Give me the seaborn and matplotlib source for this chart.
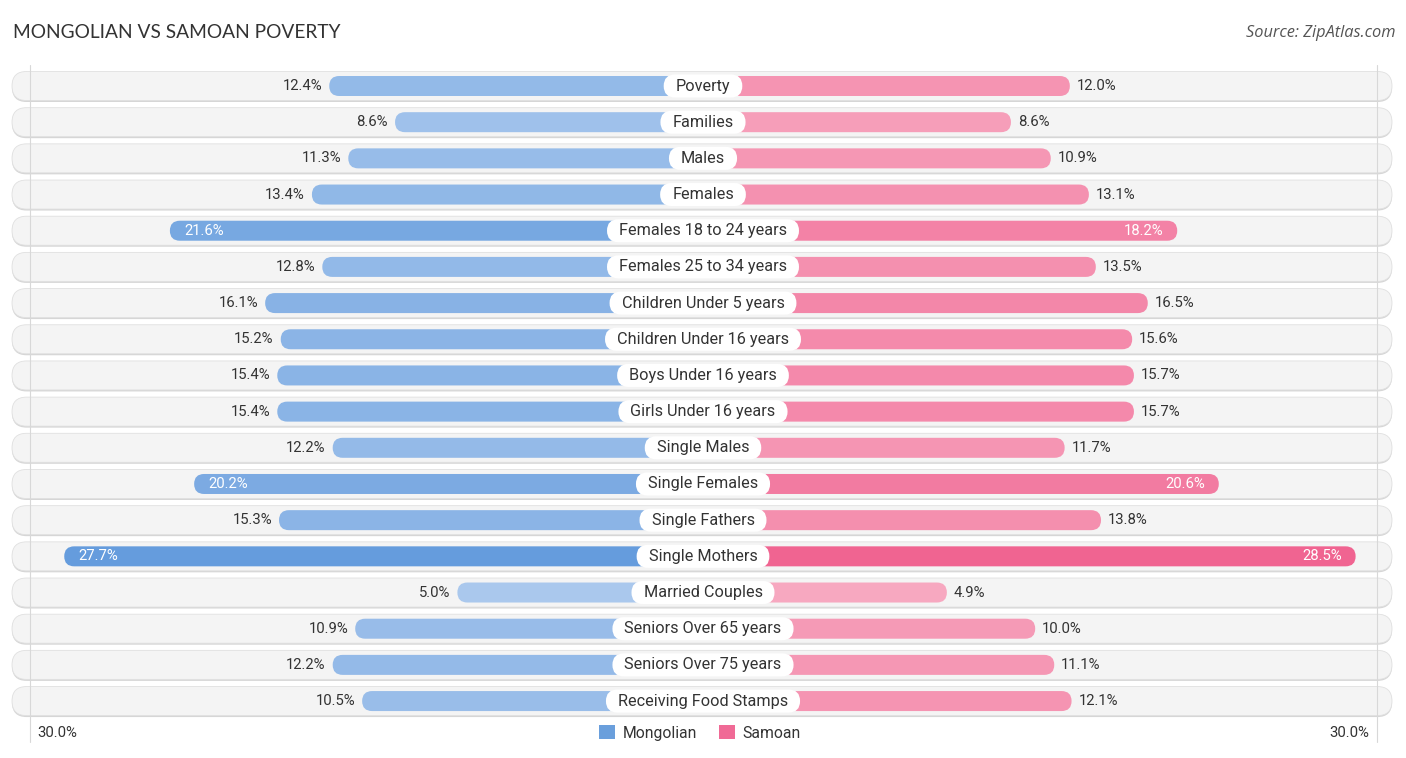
import matplotlib
matplotlib.use("Agg")
import matplotlib.pyplot as plt
from matplotlib.patches import FancyBboxPatch, Patch
import seaborn as sns
import numpy as np

categories = ["Poverty", "Families", "Males", "Females", "Females 18 to 24 years",
              "Females 25 to 34 years", "Children Under 5 years", "Children Under 16 years",
              "Boys Under 16 years", "Girls Under 16 years", "Single Males", "Single Females",
              "Single Fathers", "Single Mothers", "Married Couples", "Seniors Over 65 years",
              "Seniors Over 75 years", "Receiving Food Stamps"]
mongolian = [12.4, 8.6, 11.3, 13.4, 21.6, 12.8, 16.1, 15.2, 15.4, 15.4, 12.2, 20.2,
             15.3, 27.7, 5.0, 10.9, 12.2, 10.5]
samoan = [12.0, 8.6, 10.9, 13.1, 18.2, 13.5, 16.5, 15.6, 15.7, 15.7, 11.7, 20.6,
          13.8, 28.5, 4.9, 10.0, 11.1, 12.1]
series_names = ["Mongolian", "Samoan"]
axis_label = "30.0%"
title = "MONGOLIAN VS SAMOAN POVERTY"
source = "Source: ZipAtlas.com"

# ---- layout constants (pixel based) ----
W, H = 1406, 758
PX_X = 17.32          # px per percent
PX_Y = 36.18          # px per row
CX = 703              # center px
Y0 = 86               # first row centre px
OFFSET = 159 / PX_X   # bar base offset (label zone) in percent units
ASPECT = PX_X / PX_Y

sns.set_theme(style="white")
plt.rcParams['font.family'] = ['Roboto', 'DejaVu Sans']

fig = plt.figure(figsize=(W / 100, H / 100), dpi=100)
ax = fig.add_axes([0, 0, 1, 1])

left_x = [-(OFFSET + v) for v in mongolian]
right_x = [OFFSET + v for v in samoan]
bar_h = 20 / PX_Y

sns.barplot(x=left_x, y=categories, order=categories, orient="h", width=bar_h,
            color="#6a9fdc", ax=ax, zorder=3)
sns.barplot(x=right_x, y=categories, order=categories, orient="h", width=bar_h,
            color="#f06a96", ax=ax, zorder=3)

xlim = CX / PX_X
ax.set_xlim(-xlim, xlim)
ax.set_ylim((H - Y0) / PX_Y, -Y0 / PX_Y)
ax.axis("off")

def mix(c1, c2, t):
    c1 = np.array(matplotlib.colors.to_rgb(c1))
    c2 = np.array(matplotlib.colors.to_rgb(c2))
    return tuple(c1 + (c2 - c1) * t)

blue_light, blue_dark = "#adcaee", "#6199dc"
pink_light, pink_dark = "#f7abc2", "#f06390"

# replace rectangles by rounded bars
rects = list(ax.patches)
for p in rects:
    x0, w = p.get_x(), p.get_width()
    y0, h = p.get_y(), p.get_height()
    xl = min(x0, x0 + w)
    ww = abs(w)
    val = ww - OFFSET
    t = np.clip((val - 4) / (29 - 4), 0, 1)
    if x0 + w < 0 or w < 0:
        col = mix(blue_light, blue_dark, t)
    else:
        col = mix(pink_light, pink_dark, t)
    r = h / (2 * ASPECT)
    fb = FancyBboxPatch((xl, y0), ww, h, boxstyle=f"round,pad=0,rounding_size={r}",
                        mutation_aspect=ASPECT, fc=col, ec="none", zorder=3)
    ax.add_patch(fb)
    p.remove()

# background pills
pill_l = (12 - CX) / PX_X
pill_r = (1392 - CX) / PX_X
pill_h = 29 / PX_Y
for i in range(len(categories)):
    r = pill_h / (2 * ASPECT)
    sh = FancyBboxPatch((pill_l, i - pill_h / 2 + 1.5 / PX_Y), pill_r - pill_l, pill_h,
                        boxstyle=f"round,pad=0,rounding_size={r}", mutation_aspect=ASPECT,
                        fc="#d6d6d6", ec="none", zorder=0.5)
    ax.add_patch(sh)
    bg = FancyBboxPatch((pill_l, i - pill_h / 2), pill_r - pill_l, pill_h,
                        boxstyle=f"round,pad=0,rounding_size={r}", mutation_aspect=ASPECT,
                        fc="#f4f4f4", ec="#e0e0e0", lw=0.6, zorder=1)
    ax.add_patch(bg)

# vertical guide lines
for xp in (30, 1377):
    xd = (xp - CX) / PX_X
    ax.plot([xd, xd], [(65 - Y0) / PX_Y, (742 - Y0) / PX_Y], color="#d8d8d8", lw=0.8, zorder=1.5)

# labels
fig.canvas.draw()
renderer = fig.canvas.get_renderer()
lab_h = 23 / PX_Y
for i, cat in enumerate(categories):
    txt = ax.text(0, i, cat, ha="center", va="center", fontsize=11.7, color="#333333", zorder=6)
    tw = txt.get_window_extent(renderer).width
    bw = (tw + 24) / PX_X
    r = lab_h / (2 * ASPECT)
    ax.add_patch(FancyBboxPatch((-bw / 2, i - lab_h / 2), bw, lab_h,
                                boxstyle=f"round,pad=0,rounding_size={r}", mutation_aspect=ASPECT,
                                fc="white", ec="none", zorder=5))
    mv, sv = mongolian[i], samoan[i]
    xe = -(OFFSET + mv)
    if mv > 17:
        ax.text(xe + 14 / PX_X, i, f"{mv:.1f}%", ha="left", va="center", fontsize=10.7,
                color="white", zorder=6)
    else:
        ax.text(xe - 7 / PX_X, i, f"{mv:.1f}%", ha="right", va="center", fontsize=10.7,
                color="#333333", zorder=6)
    xe = OFFSET + sv
    if sv > 17:
        ax.text(xe - 14 / PX_X, i, f"{sv:.1f}%", ha="right", va="center", fontsize=10.7,
                color="white", zorder=6)
    else:
        ax.text(xe + 7 / PX_X, i, f"{sv:.1f}%", ha="left", va="center", fontsize=10.7,
                color="#333333", zorder=6)

yb = (733 - Y0) / PX_Y
ax.text((37 - CX) / PX_X, yb, axis_label, ha="left", va="center", fontsize=10.7, color="#333333")
ax.text((1369 - CX) / PX_X, yb, axis_label, ha="right", va="center", fontsize=10.7, color="#333333")

fig.text(13 / W, 1 - 33 / H, title, ha="left", va="center", fontsize=13.8, color="#333333",
         family=["Lato", "DejaVu Sans"])
fig.text(1395 / W, 1 - 33 / H, source, ha="right", va="center", fontsize=11.8, color="#555555",
         style="italic", family=["Open Sans", "DejaVu Sans"])

handles = [Patch(fc="#6a9fdc", ec="none", label=series_names[0]),
           Patch(fc="#f06a96", ec="none", label=series_names[1])]
fig.legend(handles=handles, loc="center", bbox_to_anchor=(700 / W, 1 - 733 / H), ncol=2,
           frameon=False, fontsize=11.3, handlelength=1.0, handleheight=1.0,
           handletextpad=0.5, columnspacing=1.4, labelcolor="#333333")

fig.savefig("out.png", dpi=100)
